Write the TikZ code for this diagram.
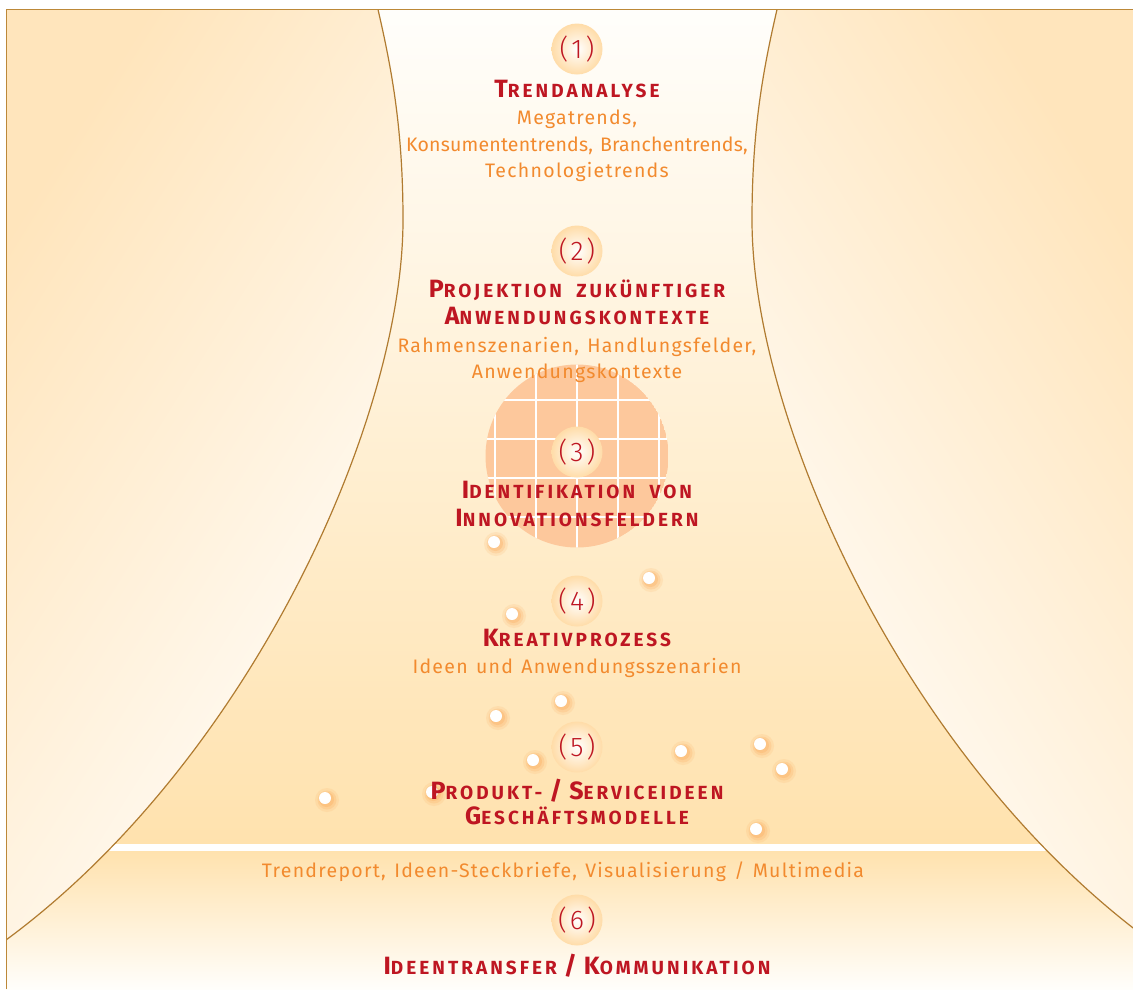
\documentclass[tikz,border=0pt]{standalone}
\usepackage{fontspec}
\setmainfont{Fira Sans}
\newfontfamily\lightf[LetterSpace=6.5,WordSpace=1.3]{Fira Sans}
\newfontfamily\numf[LetterSpace=2]{Fira Sans Light}
\newfontfamily\headf[LetterSpace=16,WordSpace=1.9]{Fira Sans}
\definecolor{hred}{HTML}{BE1622}
\definecolor{tor}{HTML}{F28A2E}
\definecolor{framec}{HTML}{BC8838}
\definecolor{curvec}{HTML}{B07B30}
\definecolor{panc}{HTML}{FFE5BC}
\definecolor{funtop}{HTML}{FFFEFB}
\definecolor{funmid}{HTML}{FFEFD6}
\definecolor{funbot}{HTML}{FFE2AE}
\definecolor{gridc}{HTML}{FDC89C}
\definecolor{badgec}{HTML}{FFDCA8}
\definecolor{glowc}{HTML}{FCA95A}
\newcommand\hd[2]{{\fontsize{25}{25}\selectfont#1}#2}
\newcommand\slsh{\kern7pt{\fontsize{25}{25}\selectfont/}\kern7pt}
\def\lcurve{(378,9.5) .. controls (392,70) and (403,130) .. (403,220) .. controls (403,420) and (250,760) .. (6,940)}
\def\rcurve{(777,9.5) .. controls (763,70) and (752,130) .. (752,220) .. controls (752,420) and (905,760) .. (1149,940)}
\def\funnel{(378,9.5) .. controls (392,70) and (403,130) .. (403,220) .. controls (403,420) and (250,760) .. (6,940) -- (0,940) -- (0,995) -- (1160,995) -- (1160,940) -- (1149,940) .. controls (905,760) and (752,420) .. (752,220) .. controls (752,130) and (763,70) .. (777,9.5) -- cycle}
\tikzset{
  head/.style={anchor=base, inner sep=0pt, text=hred, font=\headf\bfseries\fontsize{19}{19}\selectfont},
  sub/.style={anchor=base, inner sep=0pt, text=tor, font=\lightf\fontsize{19.5}{19.5}\selectfont},
  badge/.style={circle, minimum size=51pt, inner sep=0pt, inner color=white, outer color=badgec, text=hred, font=\numf\fontsize{27}{27}\selectfont}
}
\begin{document}
\begin{tikzpicture}[x=1pt,y=-1pt]
\useasboundingbox (0,0) rectangle (1133,989);
\begin{scope}
  \clip (6.5,9.5) rectangle (1133,989);
  \shade[left color=panc, right color=white, shading angle=58] (6.5,9.5) rectangle (420,989);
  \shade[left color=white, right color=panc, shading angle=122] (735,9.5) rectangle (1133,989);
  \begin{scope}
    \clip \funnel;
    \shade[top color=funtop, middle color=funmid, bottom color=funbot] (0,9.5) rectangle (1133,844);
    \shade[top color=funbot, bottom color=funtop] (0,851) rectangle (1133,989);
    \fill[white] (0,844) rectangle (1133,851);
  \end{scope}
  \draw[curvec, line width=1.2pt] \lcurve;
  \draw[curvec, line width=1.2pt] \rcurve;
\end{scope}
\draw[framec, line width=1.5pt] (6.5,989) -- (6.5,9.5) -- (1133,9.5);
% grid circle
\begin{scope}
  \clip (577,456) circle (91.5);
  \fill[gridc] (577,456) circle (91.5);
  \foreach \gx in {495,536,577,618,659} \draw[white, line width=1.8pt] (\gx,360) -- (\gx,552);
  \foreach \gy in {400,439,478,517} \draw[white, line width=1.8pt] (480,\gy) -- (674,\gy);
\end{scope}
% dots
\foreach \dx/\dy in {494/542, 649/578, 512/614, 561/701, 496/716, 533/760, 681/751, 760/744, 782/769, 325/798, 432/792, 756/829} {
  \fill[glowc, opacity=.15] (\dx+2,\dy+2) circle (12);
  \fill[glowc, opacity=.22] (\dx+2,\dy+2) circle (9.5);
  \fill[glowc, opacity=.3] (\dx+1.5,\dy+1.5) circle (7.5);
  \fill[white] (\dx,\dy) circle (6);
}
% badges
\node[badge] (b1) at (577,49) {(\kern3pt1\kern3pt)};
\node[badge] (b2) at (577,251) {(\kern3pt2\kern3pt)};
\node[badge] (b3) at (577,452) {(\kern3pt3\kern3pt)};
\node[badge] (b4) at (577,601) {(\kern3pt4\kern3pt)};
\node[badge] (b5) at (577,747) {(\kern3pt5\kern3pt)};
\node[badge] (b6) at (577,920) {(\kern3pt6\kern3pt)};
% texts
\node[head] (h1) at (577,97) {\hd{T}{RENDANALYSE}};
\node[sub] (s1a) at (577,124) {Megatrends,};
\node[sub] (s1b) at (577,151) {\addfontfeature{LetterSpace=1}Konsumententrends, Branchentrends,};
\node[sub] (s1c) at (577,177) {Technologietrends};
\node[head] (h2a) at (577,297) {\hd{P}{ROJEKTION} ZUKÜNFTIGER};
\node[head] (h2b) at (577,324) {\hd{A}{NWENDUNGSKONTEXTE}};
\node[sub] (s2a) at (577,352) {Rahmenszenarien, Handlungsfelder,};
\node[sub] (s2b) at (577,378) {Anwendungskontexte};
\node[head] (h3a) at (577,498) {\hd{I}{DENTIFIKATION} VON};
\node[head] (h3b) at (577,526) {\hd{I}{NNOVATIONSFELDERN}};
\node[head] (h4) at (577,646) {\hd{K}{REATIVPROZESS}};
\node[sub] (s4) at (577,673) {Ideen und Anwendungsszenarien};
\node[head] (h5a) at (577,799) {\hd{P}{RODUKT-}\slsh\hd{S}{ERVICEIDEEN}};
\node[head] (h5b) at (577,824) {\hd{G}{ESCHÄFTSMODELLE}};
\node[sub] (s5) at (563,877) {Trendreport, Ideen-Steckbriefe, Visualisierung / Multimedia};
\node[head] (h6) at (577,974) {\hd{I}{DEENTRANSFER}\slsh\hd{K}{OMMUNIKATION}};
\end{tikzpicture}
\end{document}
